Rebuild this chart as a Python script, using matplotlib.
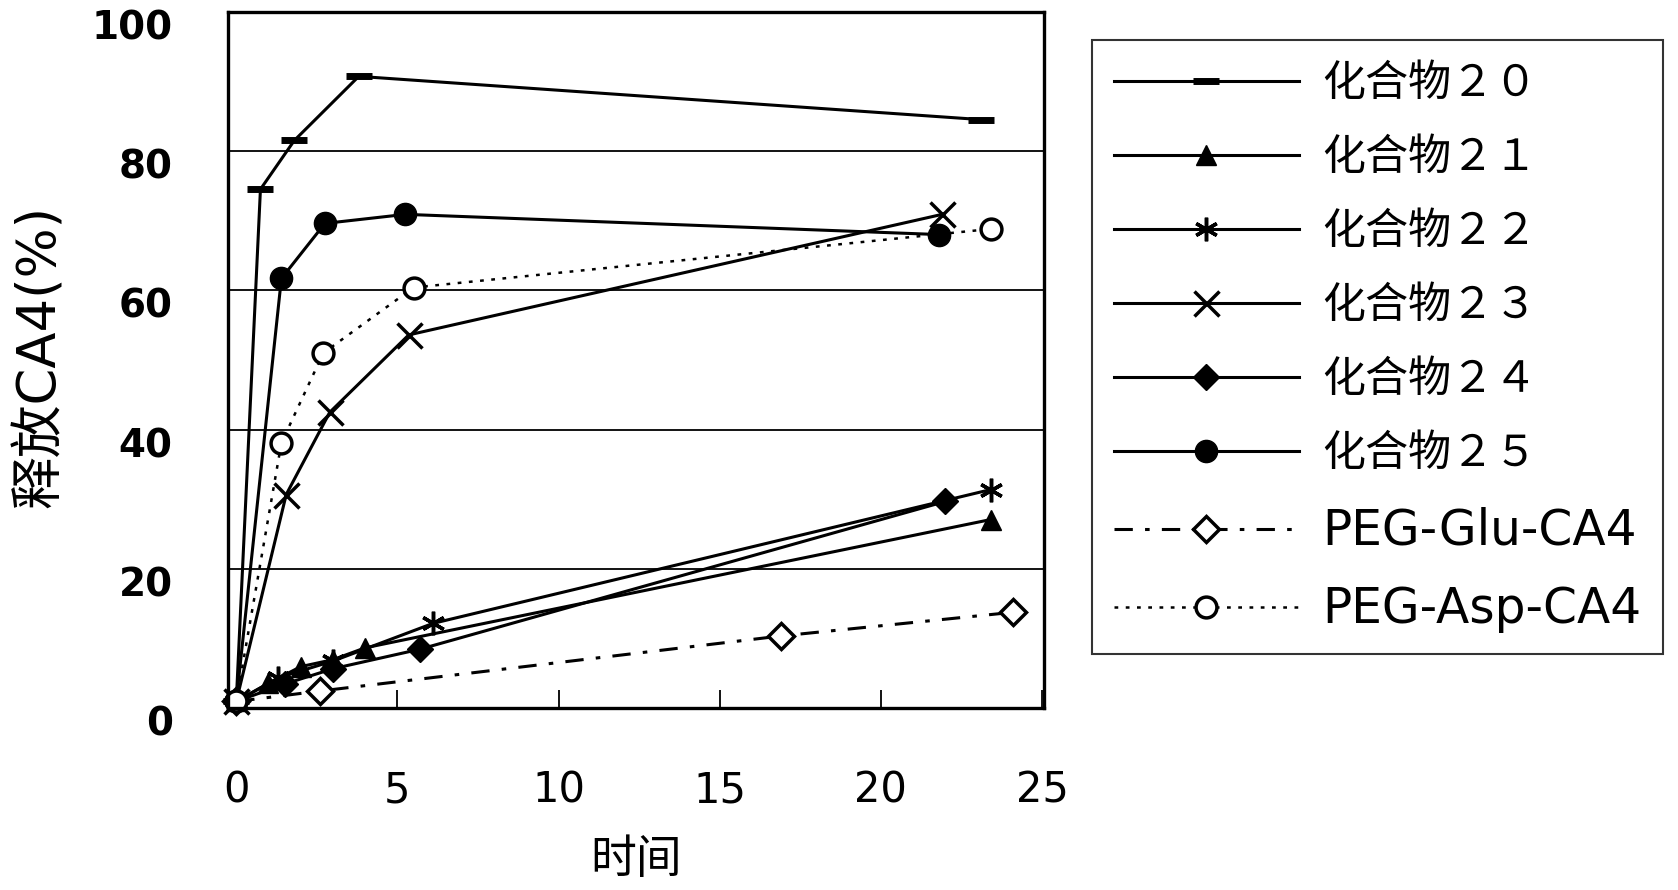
import numpy as np
import matplotlib.pyplot as plt
import matplotlib.transforms as mtransforms


# Release data (time, % CA4 released)
t20 = [0, 0.75, 1.8, 3.8, 23.1]
y20 = [1.0, 74.5, 81.5, 90.7, 84.5]

t21 = [0, 1.0, 2.0, 3.0, 4.0, 23.4]
y21 = [1.0, 3.6, 6.0, 7.0, 8.7, 27.1]

t22 = [0, 1.3, 3.0, 6.1, 23.4]
y22 = [1.0, 4.4, 6.8, 12.2, 31.4]

t23 = [0, 1.55, 2.9, 5.35, 21.9]
y23 = [1.0, 30.7, 42.5, 53.6, 70.9]

t24 = [0, 1.5, 3.0, 5.7, 22.0]
y24 = [1.0, 3.5, 5.7, 8.5, 29.7]

t25 = [0, 1.4, 2.75, 5.25, 21.8]
y25 = [1.0, 61.7, 69.6, 70.9, 68.0]

t_glu = [0, 2.6, 16.9, 24.1]
y_glu = [1.0, 2.5, 10.4, 13.8]

t_asp = [0, 1.4, 2.7, 5.5, 23.4]
y_asp = [1.0, 38.1, 51.0, 60.4, 68.8]

labels = ["化合物２０", "化合物２１", "化合物２２", "化合物２３",
          "化合物２４", "化合物２５", "PEG-Glu-CA4", "PEG-Asp-CA4"]

xticks = [0, 5, 10, 15, 20, 25]
yticks = [0, 20, 40, 60, 80, 100]

cjk = ['Noto Sans CJK SC', 'DejaVu Sans']
latin_first = ['DejaVu Sans', 'Noto Sans CJK SC']
plt.rcParams['font.family'] = ['DejaVu Sans']

fig = plt.figure(figsize=(16.78, 8.9), dpi=100)
ax = fig.add_axes([0.136, 0.204, 0.486, 0.783])

lw = 2.2
k = 'black'
ax.plot(t20, y20, '-', color=k, lw=lw, marker='_', ms=19, mew=5, label=labels[0], clip_on=False)
ax.plot(t21, y21, '-', color=k, lw=lw, marker='^', ms=15, label=labels[1], clip_on=False)
ax.plot(t22, y22, '-', color=k, lw=lw, marker=(6, 2, 0), ms=17, mew=2.5, label=labels[2], clip_on=False)
ax.plot(t23, y23, '-', color=k, lw=lw, marker='x', ms=18, mew=2.5, label=labels[3], clip_on=False)
ax.plot(t24, y24, '-', color=k, lw=lw, marker='D', ms=13, label=labels[4], clip_on=False)
ax.plot(t25, y25, '-', color=k, lw=lw, marker='o', ms=16, label=labels[5], clip_on=False)
ax.plot(t_glu, y_glu, color=k, lw=lw, dashes=(6, 4, 1.5, 4), marker='D', ms=13,
        mfc='white', mew=2.5, label=labels[6], clip_on=False)
ax.plot(t_asp, y_asp, color=k, lw=1.8, dashes=(1.5, 3), marker='o', ms=15,
        mfc='white', mew=2.5, label=labels[7], clip_on=False)

ax.set_xlim(-0.25, 25.05)
ax.set_ylim(0, 100)
ax.set_xticks(xticks)
ax.set_yticks(yticks)
ax.tick_params(axis='x', direction='in', length=13, width=1.3, pad=44, labelsize=30)
ax.tick_params(axis='y', length=0, pad=40, labelsize=28)

# y tick labels sit a little below their gridlines in the original
shift = mtransforms.ScaledTranslation(0, -9 / 72, fig.dpi_scale_trans)
for lab in ax.get_yticklabels():
    lab.set_fontweight('bold')
    lab.set_transform(lab.get_transform() + shift)

for yv in yticks[1:-1]:
    ax.axhline(yv, color=k, lw=1.3, zorder=0)

for s in ax.spines.values():
    s.set_linewidth(2.4)
    s.set_color(k)

ax.set_xlabel("时间", family=cjk, fontsize=33, labelpad=17)
fig.text(0.024, 0.60, "释放CA4(%)", family=latin_first, fontsize=38,
         rotation=90, ha='center', va='center')

handles, labs = ax.get_legend_handles_labels()
leg = fig.legend(handles, labs, loc='upper left', bbox_to_anchor=(0.651, 0.955),
                 prop={'family': cjk, 'size': 31}, frameon=True, fancybox=False,
                 edgecolor=k, handlelength=4.3, labelspacing=0.7,
                 handletextpad=0.55, borderpad=0.5, borderaxespad=0)
leg.get_frame().set_linewidth(1.5)
for txt in leg.get_texts()[6:]:
    txt.set_family('DejaVu Sans')
    txt.set_fontsize(35)

fig.savefig("out.png", dpi=100, facecolor='white')
